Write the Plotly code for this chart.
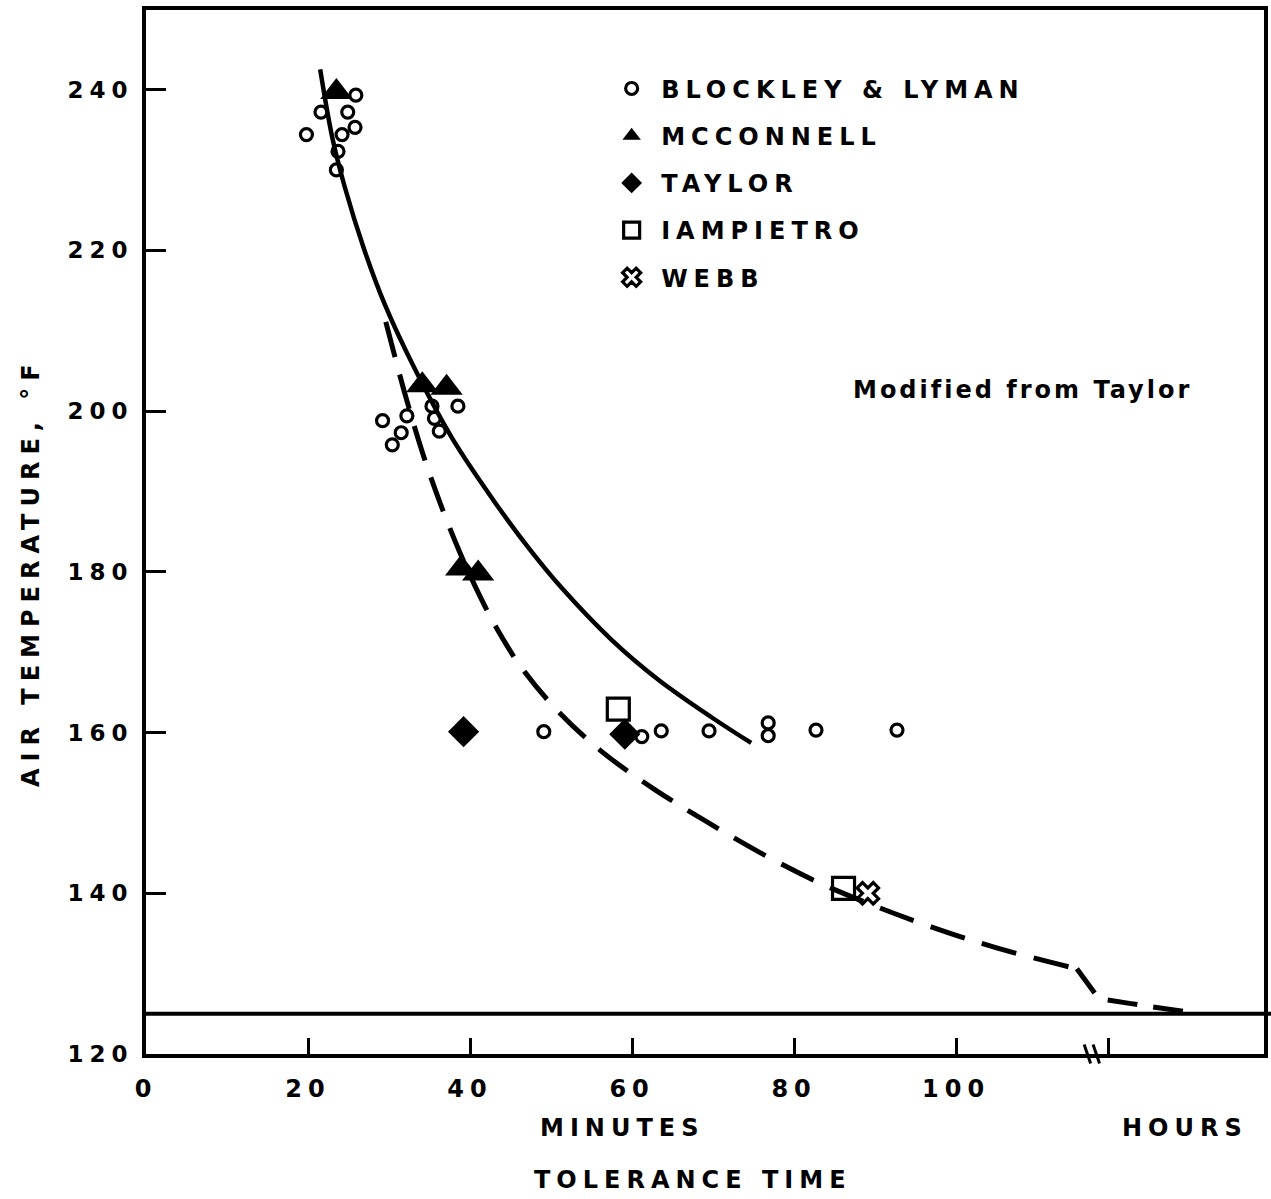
import plotly.graph_objects as go

# ---- data ----
bl_x = [25.9, 21.6, 24.9, 19.8, 25.8, 24.2, 23.7, 23.5,
        29.2, 31.5, 30.4, 32.2, 35.3, 35.6, 36.2, 38.5,
        49.1, 61.2, 63.6, 69.5, 76.8, 76.8, 82.7, 92.7]
bl_y = [239.3, 237.2, 237.2, 234.4, 235.3, 234.4, 232.3, 230.0,
        198.8, 197.3, 195.8, 199.4, 200.6, 199.1, 197.5, 200.6,
        160.1, 159.5, 160.2, 160.2, 161.2, 159.6, 160.3, 160.3]

mc_x = [23.5, 34.1, 37.1, 38.9, 41.0]
mc_y = [239.7, 203.2, 202.9, 180.4, 179.8]

tay_x = [39.2, 59.1]
tay_y = [160.1, 159.8]

iam_x = [58.3, 86.1]
iam_y = [162.9, 140.6]

webb_x = [89.1]
webb_y = [140.0]

solid_x = [21.5, 23.0, 24.5, 26.9, 29.5, 33.3, 37.8, 43.1, 47.2, 51.3, 57.5, 63.2, 69.8, 74.7]
solid_y = [242.5, 234.0, 228.0, 220.2, 213.2, 205.0, 196.6, 188.6, 183.0, 178.0, 171.5, 166.6, 161.9, 158.7]

dash_x = [29.6, 32.0, 34.2, 36.4, 38.7, 41.2, 43.5, 46.4, 50.9, 56.3, 62.8, 69.2, 75.9, 82.9,
          90.0, 97.0, 105.0, 114.9]
dash_y = [211.1, 202.0, 194.6, 188.3, 182.5, 177.0, 172.6, 168.0, 162.6, 157.6, 152.9, 148.9, 145.0, 141.4,
          138.4, 135.8, 133.2, 130.6]

# dashed curve after the axis break (hours)
dash2_x = [114.9, 117.6, 121.4, 128.7]
dash2_y = [130.6, 126.9, 126.3, 125.2]

x_tickvals = [0, 20, 40, 60, 80, 100, 118.8]
x_ticklabels = ["0", "20", "40", "60", "80", "100", ""]
y_tickvals = [120, 140, 160, 180, 200, 220, 240]
y_ticklabels = ["120", "140", "160", "180", "200", "220", "240"]
baseline_temp = 125

FONT = "DejaVu Sans"


def sp(t, ls=6):
    return '<span style="letter-spacing:%dpx">%s</span>' % (ls, t)


fig = go.Figure()

fig.add_trace(go.Scatter(x=solid_x, y=solid_y, mode="lines",
                         line=dict(color="black", width=4.5, shape="spline", smoothing=1.0),
                         showlegend=False, hoverinfo="skip"))
fig.add_trace(go.Scatter(x=dash_x, y=dash_y, mode="lines",
                         line=dict(color="black", width=5, shape="spline", smoothing=1.0, dash="36px,18px"),
                         showlegend=False, hoverinfo="skip"))
fig.add_trace(go.Scatter(x=dash2_x, y=dash2_y, mode="lines",
                         line=dict(color="black", width=5, dash="30px,16px"),
                         showlegend=False, hoverinfo="skip"))

fig.add_trace(go.Scatter(x=bl_x, y=bl_y, mode="markers", name=sp("BLOCKLEY &amp; LYMAN", 6), legendgroup="a",
                         marker=dict(symbol="circle-open", size=12, color="black", line=dict(width=3.2, color="black"))))
fig.add_trace(go.Scatter(x=mc_x, y=mc_y, mode="markers", name=sp("MCCONNELL", 6), legendgroup="b",
                         marker=dict(symbol="triangle-up", size=28, color="black")))
fig.add_trace(go.Scatter(x=tay_x, y=tay_y, mode="markers", name=sp("TAYLOR", 6), legendgroup="c",
                         marker=dict(symbol="diamond", size=24, color="black")))
fig.add_trace(go.Scatter(x=iam_x, y=iam_y, mode="markers", name=sp("IAMPIETRO", 6), legendgroup="d",
                         marker=dict(symbol="square-open", size=22, color="black", line=dict(width=3.2, color="black"))))
fig.add_trace(go.Scatter(x=webb_x, y=webb_y, mode="markers", name=sp("WEBB", 6), legendgroup="e",
                         marker=dict(symbol="x-open", size=19, color="black", line=dict(width=3.2, color="black"))))

# horizontal baseline
fig.add_shape(type="line", xref="paper", x0=0, x1=1.01, yref="y", y0=baseline_temp, y1=baseline_temp,
              line=dict(color="black", width=4))
# axis break marks
for bx in (115.8, 116.9):
    fig.add_shape(type="line", xref="x", yref="paper", x0=bx, x1=bx + 0.8, y0=0.009, y1=-0.009,
                  line=dict(color="black", width=3))

fig.update_layout(
    width=1271, height=1199,
    margin=dict(l=146, r=3, t=10, b=145),
    paper_bgcolor="white", plot_bgcolor="white",
    font=dict(family=FONT, size=24, color="black"),
    showlegend=True,
    legend=dict(x=0.408, y=0.946, xanchor="left", yanchor="top", bgcolor="rgba(0,0,0,0)",
                font=dict(family=FONT, size=24, color="black", weight="bold"),
                tracegroupgap=13, itemwidth=49),
    xaxis=dict(range=[0, 138.0], showgrid=False, zeroline=False, showline=True, linewidth=4, linecolor="black",
               mirror=True, ticks="inside", ticklen=16, tickwidth=3, tickcolor="black",
               tickvals=x_tickvals, ticktext=[sp(t) for t in x_ticklabels],
               tickfont=dict(family=FONT, size=24, weight="bold"), ticklabelstandoff=10),
    yaxis=dict(range=[120, 249.9], showgrid=False, zeroline=False, showline=True, linewidth=4, linecolor="black",
               mirror=True, ticks="inside", ticklen=20, tickwidth=3, tickcolor="black",
               tickvals=y_tickvals, ticktext=[sp(t) for t in y_ticklabels],
               tickfont=dict(family=FONT, size=23, weight="bold"), ticklabelstandoff=4),
)

ann = dict(showarrow=False, xanchor="center", yanchor="middle",
           font=dict(family=FONT, size=24, color="black", weight="bold"))
fig.add_annotation(text=sp("MINUTES"), xref="paper", yref="paper", x=0.426, y=-0.0709, **ann)
fig.add_annotation(text=sp("HOURS"), xref="paper", yref="paper", x=0.929, y=-0.0709, **ann)
fig.add_annotation(text=sp("TOLERANCE TIME"), xref="paper", yref="paper", x=0.489, y=-0.1207, **ann)
fig.add_annotation(text=sp("AIR TEMPERATURE, °F", 7), xref="paper", yref="paper", x=-0.1034, y=0.462,
                   textangle=-90, **ann)
fig.add_annotation(text=sp("Modified from Taylor", 3), xref="paper", yref="paper", x=0.784, y=0.636, **ann)

fig.write_html("out.html", config={"displayModeBar": False},
               post_script="document.body.style.margin='0px';document.body.style.overflow='hidden';")
